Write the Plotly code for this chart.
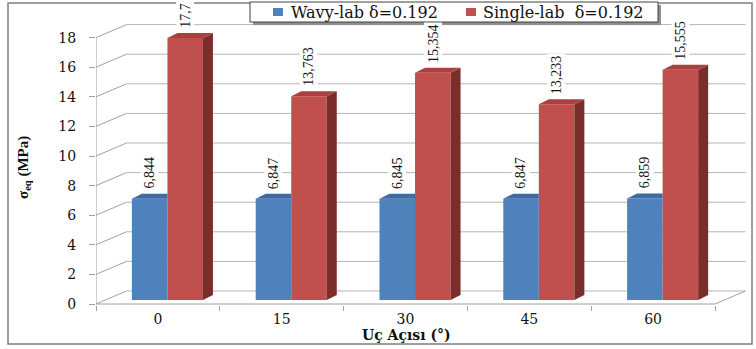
import plotly.graph_objects as go

# ---------------- data ----------------
categories = ["0", "15", "30", "45", "60"]
wavy_lab = [6.844, 6.847, 6.845, 6.847, 6.859]
single_lab = [17.7, 13.763, 15.354, 13.233, 15.555]
y_ticks = [0, 2, 4, 6, 8, 10, 12, 14, 16, 18]
series_names = ["Wavy-lab δ=0.192", "Single-lab\u00a0 δ=0.192"]
x_title = "Uç Açısı (°)"
y_title = "σ<sub>eq</sub> (MPa)"

# ---------------- geometry / style ----------------
W, H = 756, 349
ML, MR, MT, MB = 96, 6, 20, 44
PW, PH = W - ML - MR, H - MT - MB
PX_X, PX_Y = 123.8, 14.8          # pixels per category / per MPa
X_RANGE = [-0.5, -0.5 + PW / PX_X]
Y_RANGE = [-5 / PX_Y, (PH - 5) / PX_Y]
FY = -4 / PX_Y                    # front plane offset
BX, BY = 30.5 / PX_X, 9 / PX_Y    # back wall offset
DDX, DDY = 10 / PX_X, 5 / PX_Y    # bar depth
BW = 0.287
OFF_B = -0.21
OFF_R = OFF_B + BW

BLUE, BLUE_TOP = "#4f81bd", "#3d6ba3"
RED, RED_TOP, RED_SIDE = "#c0504d", "#a9423f", "#7a2e2c"
GRID = "#b5b5b5"
AXC = "#a0a0a0"
COLORS = [BLUE, RED]

idx = list(range(len(categories)))
n = len(categories)


def px_x(p):
    return (p - ML) / PW


def px_y(p):
    return (H - MB - p) / PH


fig = go.Figure()

# front faces
for vals, off, name, col in ((wavy_lab, OFF_B, series_names[0], BLUE),
                             (single_lab, OFF_R, series_names[1], RED)):
    fig.add_trace(go.Bar(x=idx, y=vals, offset=off, width=BW, name=name,
                         marker=dict(color=col, line=dict(width=0)), hoverinfo="y",
                         showlegend=False))

# blue top faces (clipped by red bar)
bx, by = [], []
for i, v in zip(idx, wavy_lab):
    xl = i + OFF_B
    xr = xl + BW
    bx += [xl, xr, xr, xl + DDX, xl, None]
    by += [v, v, v + DDY, v + DDY, v, None]
fig.add_trace(go.Scatter(x=bx, y=by, fill="toself", fillcolor=BLUE_TOP, mode="lines",
                         line=dict(width=0, color=BLUE_TOP), showlegend=False, hoverinfo="skip"))

# red side + top faces
sx, sy, tx, ty = [], [], [], []
for i, v in zip(idx, single_lab):
    xl = i + OFF_R
    xr = xl + BW
    sx += [xr, xr, xr + DDX, xr + DDX, xr, None]
    sy += [0, v, v + DDY, DDY, 0, None]
    tx += [xl, xr, xr + DDX, xl + DDX, xl, None]
    ty += [v, v, v + DDY, v + DDY, v, None]
fig.add_trace(go.Scatter(x=sx, y=sy, fill="toself", fillcolor=RED_SIDE, mode="lines",
                         line=dict(width=0, color=RED_SIDE), showlegend=False, hoverinfo="skip"))
fig.add_trace(go.Scatter(x=tx, y=ty, fill="toself", fillcolor=RED_TOP, mode="lines",
                         line=dict(width=0, color=RED_TOP), showlegend=False, hoverinfo="skip"))

# dummy trace for the front value axis
fig.add_trace(go.Scatter(x=[0], y=[0], yaxis="y2", mode="markers", marker=dict(opacity=0),
                         showlegend=False, hoverinfo="skip"))

# ---------------- walls / gridlines (shapes below traces) ----------------
shapes = []
x_front_l, x_front_r = -0.5, n - 0.5
for t in y_ticks:
    shapes.append(dict(type="line", xref="x", yref="y", layer="below",
                       x0=x_front_l + BX, x1=x_front_r + BX, y0=t + BY, y1=t + BY,
                       line=dict(color=GRID, width=1)))
    shapes.append(dict(type="line", xref="x", yref="y", layer="below",
                       x0=x_front_l, x1=x_front_l + BX, y0=t + FY, y1=t + BY,
                       line=dict(color=AXC, width=1)))
shapes.append(dict(type="line", xref="x", yref="y", layer="below",
                   x0=x_front_l, x1=x_front_r, y0=FY, y1=FY, line=dict(color=AXC, width=1)))
shapes.append(dict(type="line", xref="x", yref="y", layer="below",
                   x0=x_front_r, x1=x_front_r + BX, y0=FY, y1=BY, line=dict(color=AXC, width=1)))
shapes.append(dict(type="line", xref="x", yref="y", layer="below",
                   x0=x_front_l, x1=x_front_l, y0=FY, y1=y_ticks[-1] + FY,
                   line=dict(color=AXC, width=1)))
# outer frame
shapes.append(dict(type="rect", xref="paper", yref="paper", layer="below",
                   x0=px_x(8), x1=px_x(752), y0=px_y(344), y1=px_y(3),
                   line=dict(color="#7f7f7f", width=1.5)))

# ---------------- legend (drawn manually) ----------------
LEG = dict(x0=250, x1=658, y0=2, y1=22)
shapes.append(dict(type="rect", xref="paper", yref="paper", layer="above",
                   x0=px_x(LEG["x0"] + 3), x1=px_x(LEG["x1"] + 3),
                   y0=px_y(LEG["y1"] + 3), y1=px_y(LEG["y0"] + 3),
                   fillcolor="#8f8f8f", line=dict(width=0)))
shapes.append(dict(type="rect", xref="paper", yref="paper", layer="above",
                   x0=px_x(LEG["x0"]), x1=px_x(LEG["x1"]),
                   y0=px_y(LEG["y1"]), y1=px_y(LEG["y0"]),
                   fillcolor="white", line=dict(color="#404040", width=1)))
leg_marker_x = [273, 466]
leg_text_x = [289, 481]
annotations = []
for mx, tx_, name, col in zip(leg_marker_x, leg_text_x, series_names, COLORS):
    shapes.append(dict(type="rect", xref="paper", yref="paper", layer="above",
                       x0=px_x(mx), x1=px_x(mx + 10), y0=px_y(16), y1=px_y(8),
                       fillcolor=col, line=dict(width=0)))
    annotations.append(dict(x=px_x(tx_), y=px_y(12.5), xref="paper", yref="paper",
                            text=name, showarrow=False, xanchor="left", yanchor="middle",
                            font=dict(family="DejaVu Serif", size=16, color="#111")))

# ---------------- data labels ----------------
for vals, off in ((wavy_lab, OFF_B), (single_lab, OFF_R)):
    for i, v in zip(idx, vals):
        annotations.append(dict(
            x=i + off + BW / 2, y=v + DDY, xref="x", yref="y",
            text=f"{v:g}".replace(".", ","), showarrow=False, textangle=-90,
            xanchor="center", yanchor="bottom", yshift=3,
            bgcolor="white", borderpad=1,
            font=dict(family="Liberation Serif", size=14, color="#111")))
annotations.append(dict(x=px_x(24), y=px_y(168), xref="paper", yref="paper",
                        text="<b>" + y_title + "</b>", textangle=-90, showarrow=False,
                        xanchor="center", yanchor="middle",
                        font=dict(family="Liberation Serif", size=15, color="#111")))
annotations.append(dict(x=px_x(406), y=px_y(335), xref="paper", yref="paper",
                        text="<b>" + x_title + "</b>", showarrow=False,
                        xanchor="center", yanchor="middle",
                        font=dict(family="DejaVu Serif", size=14, color="#111")))

fig.update_layout(
    width=W, height=H,
    margin=dict(l=ML, r=MR, t=MT, b=MB, autoexpand=False),
    paper_bgcolor="white", plot_bgcolor="rgba(0,0,0,0)",
    barmode="overlay",
    shapes=shapes,
    annotations=annotations,
    showlegend=False,
    xaxis=dict(range=X_RANGE, tickmode="array", tickvals=idx, ticktext=categories,
               ticks="", showgrid=False, zeroline=False, showline=False,
               ticklabelstandoff=4,
               tickfont=dict(family="DejaVu Serif", size=14, color="#111"),
               minor=dict(tickvals=[i - 0.5 for i in range(n + 1)], ticks="outside",
                          ticklen=5, tickcolor=AXC, showgrid=False)),
    yaxis=dict(range=Y_RANGE, visible=False, showgrid=False, zeroline=False),
    yaxis2=dict(overlaying="y", side="left", range=[Y_RANGE[0] - FY, Y_RANGE[1] - FY],
                tickmode="array", tickvals=y_ticks, ticks="outside", ticklen=6,
                tickcolor=AXC, showgrid=False, zeroline=False, showline=False,
                ticklabelstandoff=10,
                tickfont=dict(family="DejaVu Serif", size=14, color="#111")),
)

fig.write_html("out.html", config={"displayModeBar": False},
               post_script="document.body.style.margin='0';")
